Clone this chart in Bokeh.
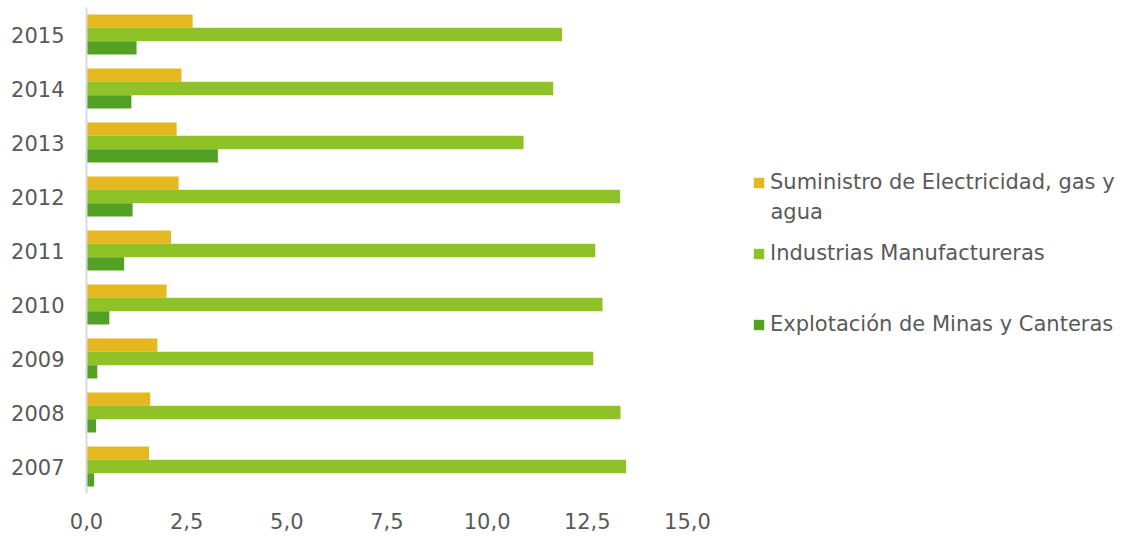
from bokeh.plotting import figure
from bokeh.models import (FactorRange, Range1d, FixedTicker, CustomJSTickFormatter,
                          Legend, LegendItem, ColumnDataSource, Label)
from bokeh.transform import dodge
from bokeh.embed import file_html
from bokeh.resources import INLINE

# ---- data ----
years = ["2007", "2008", "2009", "2010", "2011", "2012", "2013", "2014", "2015"]
suministro = [1.56, 1.59, 1.77, 2.00, 2.11, 2.30, 2.25, 2.37, 2.65]
industrias = [13.47, 13.33, 12.65, 12.88, 12.70, 13.32, 10.91, 11.65, 11.87]
explotacion = [0.19, 0.24, 0.27, 0.57, 0.94, 1.15, 3.28, 1.12, 1.25]
series_labels = ["Suministro de Electricidad, gas y",
                 "Industrias Manufactureras",
                 "Explotación de Minas y Canteras"]
series_label_cont = "agua"   # second line of the first legend label
x_ticks = [0, 2.5, 5, 7.5, 10, 12.5, 15]

colors = ["#E5B81F", "#8FC226", "#52A024"]
FONT = "DejaVu Sans"
TXT = "#595959"
FS = "21px"

src = ColumnDataSource(dict(year=years, sum=suministro, ind=industrias, exp=explotacion))

# frame spans the whole width to the right so the legend can sit inside it
p = figure(width=1126, height=536, output_backend="svg", toolbar_location=None,
           y_range=FactorRange(*years), x_range=Range1d(0, 25.96),
           min_border_left=86, min_border_right=0, min_border_top=7,
           min_border_bottom=43)

bw = 0.2465
r1 = p.hbar(y=dodge("year", bw, range=p.y_range), right="sum", left=0, height=bw,
            source=src, fill_color=colors[0], line_color=None)
r2 = p.hbar(y=dodge("year", 0, range=p.y_range), right="ind", left=0, height=bw,
            source=src, fill_color=colors[1], line_color=None)
r3 = p.hbar(y=dodge("year", -bw, range=p.y_range), right="exp", left=0, height=bw,
            source=src, fill_color=colors[2], line_color=None)

p.outline_line_color = None
p.grid.visible = False
p.background_fill_color = "white"
p.border_fill_color = "white"

# x axis
xa = p.xaxis[0]
xa.ticker = FixedTicker(ticks=x_ticks)
xa.formatter = CustomJSTickFormatter(code="return tick.toFixed(1).replace('.', ',');")
xa.axis_line_color = None
xa.major_tick_line_color = None
xa.minor_tick_line_color = None
xa.major_tick_out = 0
xa.major_tick_in = 0
xa.major_label_standoff = 19
xa.major_label_text_font = FONT
xa.major_label_text_font_size = FS
xa.major_label_text_color = TXT

# y axis
ya = p.yaxis[0]
ya.axis_line_color = "#D9D9D9"
ya.axis_line_width = 2
ya.major_tick_line_color = None
ya.minor_tick_line_color = None
ya.major_tick_out = 0
ya.major_tick_in = 0
ya.major_label_standoff = 22
ya.major_label_text_font = FONT
ya.major_label_text_font_size = FS
ya.major_label_text_color = TXT

legend = Legend(items=[LegendItem(label=series_labels[0], renderers=[r1]),
                       LegendItem(label=series_labels[1], renderers=[r2]),
                       LegendItem(label=series_labels[2], renderers=[r3])],
                location=(666, 157), orientation="vertical",
                glyph_width=13, glyph_height=13, label_standoff=5, label_height=24,
                label_text_font=FONT, label_text_font_size=FS, label_text_color=TXT,
                spacing=47, padding=0, margin=0, border_line_color=None,
                background_fill_alpha=0)
p.add_layout(legend, "center")

p.add_layout(Label(x=684, y=282, x_units="screen", y_units="screen",
                   text=series_label_cont, text_font=FONT, text_font_size=FS,
                   text_color=TXT, text_baseline="alphabetic", text_align="left"))

open("out.html", "w").write(file_html(p, INLINE))
